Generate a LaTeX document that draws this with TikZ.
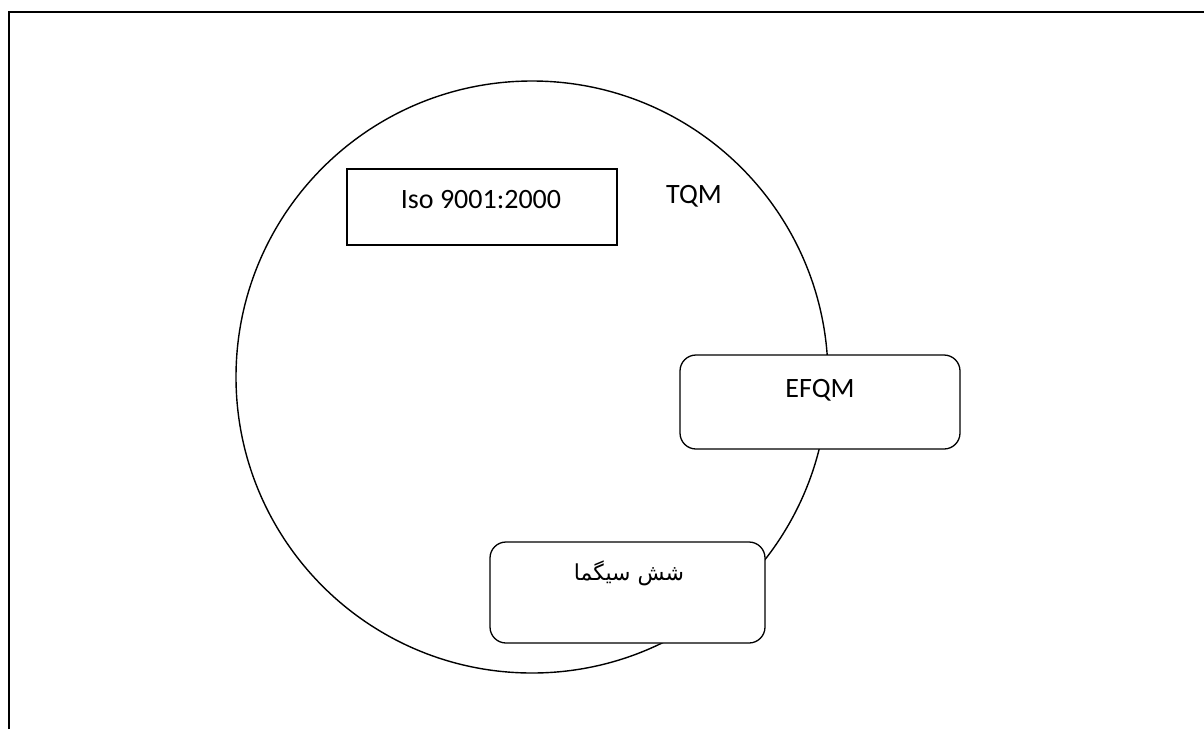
\documentclass[tikz,border=0pt]{standalone}
\usepackage{fontspec}
\setmainfont{Carlito}
\newfontfamily\arabicfont[Script=Arabic]{DejaVu Sans}
\TeXXeTstate=1

\begin{document}
\begin{tikzpicture}[x=1pt, y=-1pt, font=\fontsize{28}{33}\selectfont,
    sqbox/.style={draw, fill=white, line width=1.1pt, inner sep=0pt},
    rndbox/.style={sqbox, line width=1.3pt, rounded corners=16pt}]
\useasboundingbox (0,0) rectangle (1204,729);
\draw[line width=2.2pt] (9,729) -- (9,12) -- (1204,12);
\node[circle, draw, line width=1.4pt, minimum size=592pt, inner sep=0pt] (tqm) at (532,377) {};
\node (tqmtext) at (694,196) {TQM};
\node[sqbox, minimum width=270pt, minimum height=76pt] (iso) at (482,207) {};
\node (isotext) at (481,200) {Iso 9001:2000};
\node[rndbox, minimum width=280pt, minimum height=94pt] (efqm) at (820,402) {};
\node (efqmtext) at (820,390) {EFQM};
\node[rndbox, minimum width=275pt, minimum height=101pt] (sigma) at (627.5,592.5) {};
\node[font=\fontsize{22}{26}\arabicfont] (sigmatext) at (629,573) {\beginR شش سیگما\endR};
\end{tikzpicture}
\end{document}
